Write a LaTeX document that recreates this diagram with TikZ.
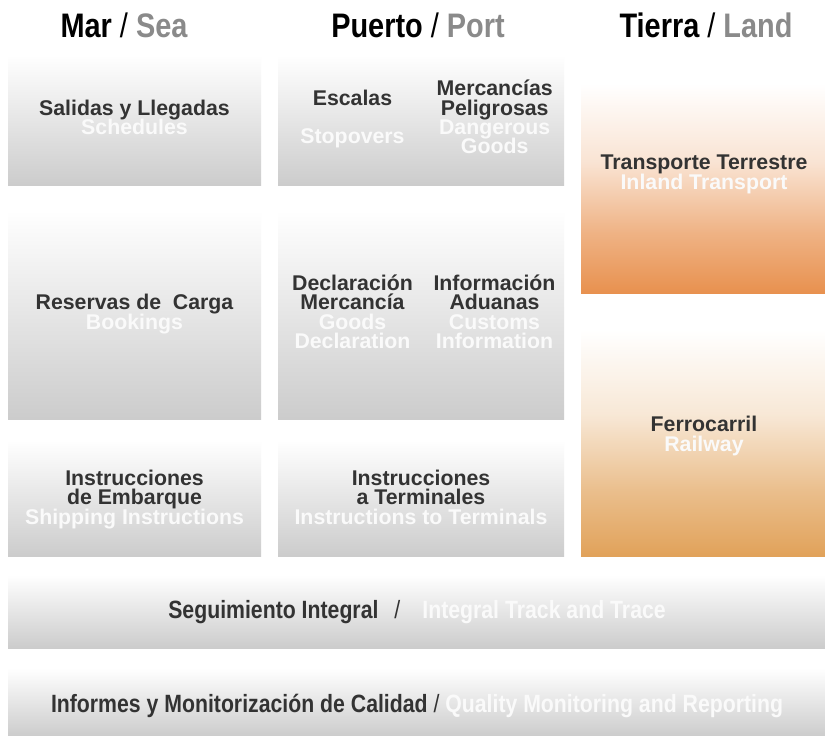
\documentclass[tikz,border=0pt]{standalone}
\usepackage{fontspec}
\setmainfont{Liberation Sans}
\newfontfamily\condfont[FakeStretch=0.85]{Liberation Sans}
\definecolor{dark}{HTML}{333333}
\definecolor{tgray}{HTML}{8A8A8A}
\definecolor{boxgray}{HTML}{CCCCCC}
\definecolor{wtxt}{HTML}{FAFAFA}
\definecolor{orA}{HTML}{E8914F}
\definecolor{orB}{HTML}{E1A25A}
\colorlet{orAa}{orA!70!white}
\colorlet{orAb}{orA!25!white}
\colorlet{orBa}{orB!70!white}
\colorlet{orBb}{orB!25!white}
\pgfdeclareverticalshading{shA}{100bp}{color(0bp)=(orA); color(25bp)=(orA); color(37.5bp)=(orAa); color(52.5bp)=(orAb); color(69bp)=(white); color(100bp)=(white)}
\pgfdeclareverticalshading{shB}{100bp}{color(0bp)=(orB); color(25bp)=(orB); color(37.5bp)=(orBa); color(52.5bp)=(orBb); color(69bp)=(white); color(100bp)=(white)}
\tikzset{
  gbox/.style={inner sep=0, outer sep=0, anchor=north west, top color=white, bottom color=boxgray},
  obox/.style={inner sep=0, outer sep=0, anchor=north west, shading=#1},
  ln/.style={anchor=base, inner sep=0, font=\bfseries\fontsize{21.3}{21.3}\selectfont},
  dk/.style={ln, text=dark},
  wt/.style={ln, text=wtxt},
  ttl/.style={anchor=base, inner sep=0, font=\condfont\bfseries\fontsize{34}{34}\selectfont, text=black},
  bartxt/.style={anchor=base, inner sep=0, font=\condfont\bfseries\fontsize{25}{25}\selectfont, text=dark},
}
\begin{document}
\begin{tikzpicture}[x=1pt, y=-1pt]
\useasboundingbox[fill=white] (0,0) rectangle (825,736);
% titles
\node[ttl] (t1) at (124,37) {Mar {\mdseries/} \textcolor{tgray}{Sea}};
\node[ttl] (t2) at (418,37) {Puerto {\mdseries/} \textcolor{tgray}{Port}};
\node[ttl] (t3) at (706,37) {Tierra {\mdseries/} \textcolor{tgray}{Land}};
% boxes
\node[gbox, minimum width=253pt, minimum height=130pt] (sal) at (8,55) {};
\node[gbox, minimum width=253pt, minimum height=209pt] (res) at (8,210) {};
\node[gbox, minimum width=253pt, minimum height=116pt] (insa) at (8,440) {};
\node[gbox, minimum width=286pt, minimum height=130pt] (esc) at (278,55) {};
\node[gbox, minimum width=286pt, minimum height=209pt] (dec) at (278,210) {};
\node[gbox, minimum width=286pt, minimum height=116pt] (insb) at (278,440) {};
\node[obox=shA, minimum width=244pt, minimum height=238pt] (landa) at (581,55) {};
\node[obox=shB, minimum width=244pt, minimum height=257pt] (landb) at (581,299) {};
\node[gbox, minimum width=817pt, minimum height=73pt] (bara) at (8,575) {};
\node[gbox, minimum width=817pt, minimum height=68pt] (barb) at (8,668) {};
% Sea column
\node[dk] (sal1) at (134.5,115) {Salidas y Llegadas};
\node[wt] (sal2) at (134.5,134.5) {Schedules};
\node[dk] (res1) at (134.5,309.5) {Reservas de\ \ Carga};
\node[wt] (res2) at (134.5,329) {Bookings};
\node[dk] (ins1) at (134.5,485) {Instrucciones};
\node[dk] (ins2) at (134.5,504.5) {de Embarque};
\node[wt] (ins3) at (134.5,524) {Shipping Instructions};
% Port column
\node[dk] (esc1) at (352.5,105) {Escalas};
\node[wt] (esc2) at (352.5,143) {Stopovers};
\node[dk] (mer1) at (494.7,95.5) {Mercancías};
\node[dk] (mer2) at (494.7,115) {Peligrosas};
\node[wt] (mer3) at (494.7,134.5) {Dangerous};
\node[wt] (mer4) at (494.7,153) {Goods};
\node[dk] (dec1) at (352.5,290) {Declaración};
\node[dk] (dec2) at (352.5,309.5) {Mercancía};
\node[wt] (dec3) at (352.5,329) {Goods};
\node[wt] (dec4) at (352.5,348) {Declaration};
\node[dk] (adu1) at (494.5,290) {Información};
\node[dk] (adu2) at (494.5,309.5) {Aduanas};
\node[wt] (adu3) at (494.5,329) {Customs};
\node[wt] (adu4) at (494.5,348) {Information};
\node[dk] (ter1) at (421,485) {Instrucciones};
\node[dk] (ter2) at (421,504.5) {a Terminales};
\node[wt] (ter3) at (421,524) {Instructions to Terminals};
% Land column
\node[dk] (tt1) at (704,169.5) {Transporte Terrestre};
\node[wt] (tt2) at (704,189) {Inland Transport};
\node[dk] (fc1) at (704,431.5) {Ferrocarril};
\node[wt] (fc2) at (704,451) {Railway};
% bars
\node[bartxt] (ba) at (417,618) {Seguimiento Integral\hspace{16pt}{\mdseries/}\hspace{22pt}\textcolor{wtxt}{Integral Track and Trace}};
\node[bartxt] (bb) at (417,712) {Informes y Monitorización de Calidad {\mdseries/} \textcolor{wtxt}{Quality Monitoring and Reporting}};
\end{tikzpicture}
\end{document}
